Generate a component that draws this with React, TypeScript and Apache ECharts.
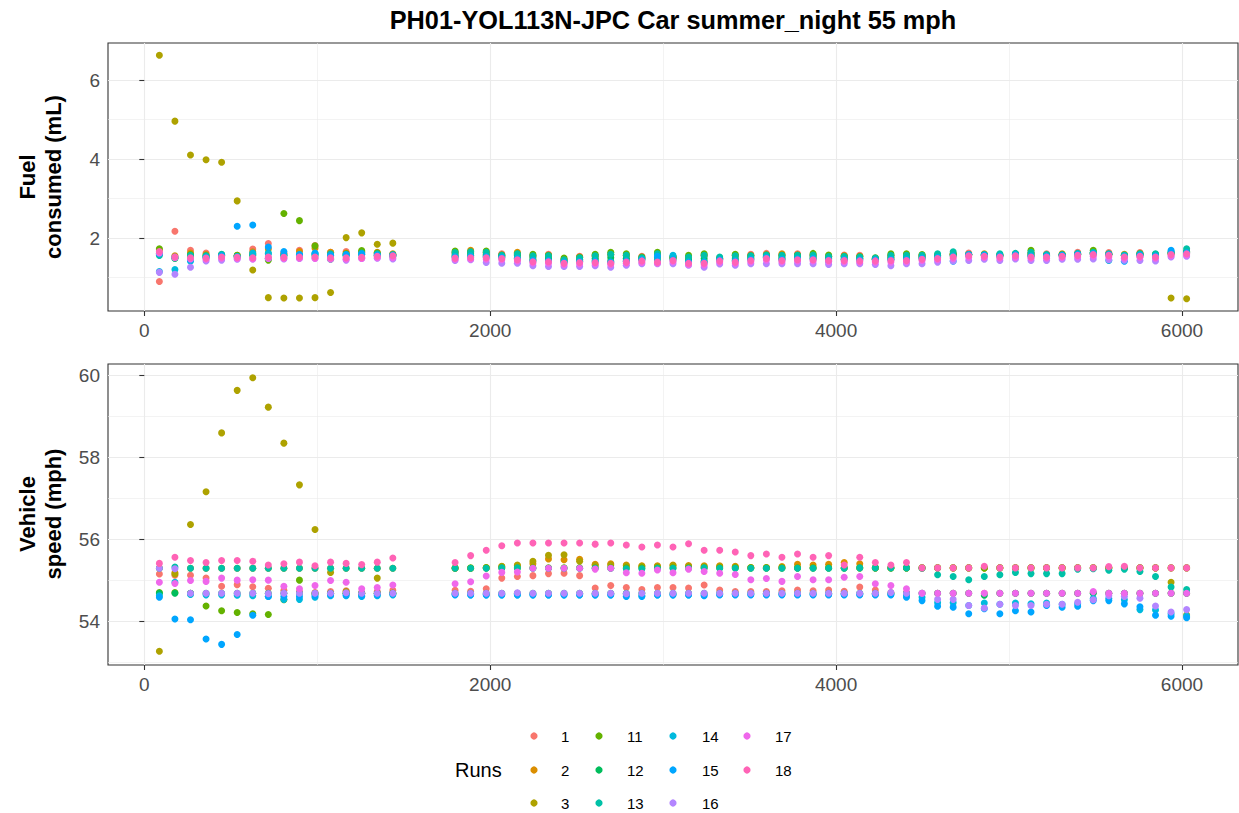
import React, { useEffect, useRef } from "react";
import * as echarts from "echarts";

// Distance along the route for every sampled window
const distance = [
  87, 177, 267, 357, 447, 537, 627, 717, 807, 897, 987, 1077, 1167, 1257, 1347, 1437,
  1797, 1887, 1977, 2067, 2157, 2247, 2337, 2427, 2517, 2607, 2697, 2787, 2877, 2967, 3057, 3147,
  3237, 3327, 3417, 3507, 3597, 3687, 3777, 3867, 3957, 4047, 4137, 4227, 4317, 4407, 4497, 4587,
  4677, 4767, 4857, 4947, 5037, 5127, 5217, 5307, 5397, 5487, 5577, 5667, 5757, 5847, 5937, 6027,
];

const runNames = ["1", "2", "3", "11", "12", "13", "14", "15", "16", "17", "18"];
const runColors = [
  "#F8766D", "#DB8E00", "#AEA200", "#64B200", "#00BD5C", "#00C1A7",
  "#00BADE", "#00A6FF", "#B385FF", "#EF67EB", "#FF63B6",
];

// Fuel consumed (mL) per window, one array per run
const fuelRun1 = [0.90, 2.17, 1.69, 1.62, 1.58, 1.55, 1.72, 1.86, 1.62, 1.69, 1.81, 1.64, 1.66, 1.64, 1.60, 1.58,
  1.62, 1.64, 1.62, 1.60, 1.60, 1.55, 1.59, 1.45, 1.54, 1.55, 1.58, 1.55, 1.54, 1.57, 1.52, 1.51,
  1.55, 1.49, 1.55, 1.59, 1.61, 1.57, 1.60, 1.56, 1.53, 1.57, 1.56, 1.47, 1.55, 1.56, 1.55, 1.56,
  1.60, 1.62, 1.56, 1.57, 1.60, 1.63, 1.60, 1.56, 1.64, 1.62, 1.63, 1.56, 1.63, 1.59, 1.61, 1.63];
const fuelRun2 = [1.70, 1.55, 1.62, 1.58, 1.56, 1.56, 1.65, 1.72, 1.60, 1.66, 1.74, 1.64, 1.62, 1.66, 1.64, 1.60,
  1.64, 1.69, 1.63, 1.57, 1.64, 1.54, 1.56, 1.46, 1.52, 1.54, 1.57, 1.56, 1.50, 1.58, 1.51, 1.52,
  1.56, 1.48, 1.56, 1.56, 1.58, 1.60, 1.57, 1.57, 1.54, 1.55, 1.53, 1.48, 1.56, 1.57, 1.56, 1.55,
  1.58, 1.58, 1.60, 1.56, 1.58, 1.60, 1.57, 1.60, 1.58, 1.61, 1.60, 1.59, 1.61, 1.57, 1.60, 1.62];
const fuelRun3 = [6.63, 4.96, 4.10, 3.98, 3.92, 2.94, 1.19, 0.49, 0.48, 0.48, 0.49, 0.62, 2.01, 2.13, 1.84, 1.87,
  1.54, 1.55, 1.56, 1.53, 1.50, 1.45, 1.46, 1.41, 1.43, 1.44, 1.42, 1.44, 1.47, 1.45, 1.48, 1.41,
  1.42, 1.46, 1.44, 1.48, 1.52, 1.48, 1.50, 1.49, 1.48, 1.47, 1.47, 1.46, 1.48, 1.47, 1.51, 1.52,
  1.56, 1.58, 1.57, 1.56, 1.58, 1.56, 1.56, 1.57, 1.59, 1.61, 1.59, 1.56, 1.57, 1.56, 0.48, 0.46];
const fuelRun11 = [1.73, 1.50, 1.58, 1.55, 1.57, 1.56, 1.60, 1.44, 2.62, 2.44, 1.80, 1.48, 1.60, 1.68, 1.62, 1.57,
  1.67, 1.65, 1.67, 1.57, 1.60, 1.59, 1.56, 1.49, 1.51, 1.59, 1.64, 1.60, 1.52, 1.64, 1.52, 1.56,
  1.60, 1.48, 1.59, 1.55, 1.57, 1.56, 1.57, 1.61, 1.57, 1.54, 1.53, 1.50, 1.60, 1.60, 1.58, 1.56,
  1.60, 1.58, 1.57, 1.58, 1.60, 1.69, 1.57, 1.58, 1.60, 1.69, 1.58, 1.55, 1.60, 1.58, 1.62, 1.66];
const fuelRun12 = [1.60, 1.48, 1.55, 1.52, 1.54, 1.52, 1.55, 1.48, 1.55, 1.55, 1.56, 1.46, 1.55, 1.58, 1.56, 1.54,
  1.58, 1.60, 1.58, 1.54, 1.55, 1.50, 1.49, 1.42, 1.46, 1.49, 1.50, 1.49, 1.48, 1.51, 1.49, 1.46,
  1.48, 1.47, 1.49, 1.51, 1.54, 1.51, 1.52, 1.53, 1.50, 1.50, 1.49, 1.46, 1.51, 1.51, 1.52, 1.54,
  1.58, 1.58, 1.57, 1.56, 1.59, 1.60, 1.56, 1.57, 1.60, 1.63, 1.59, 1.55, 1.58, 1.57, 1.63, 1.66];
const fuelRun13 = [1.56, 1.50, 1.56, 1.55, 1.59, 1.54, 1.58, 1.62, 1.56, 1.58, 1.60, 1.60, 1.58, 1.62, 1.60, 1.58,
  1.63, 1.65, 1.64, 1.56, 1.60, 1.55, 1.55, 1.45, 1.50, 1.55, 1.59, 1.56, 1.50, 1.60, 1.53, 1.52,
  1.56, 1.52, 1.55, 1.55, 1.57, 1.56, 1.56, 1.57, 1.53, 1.53, 1.52, 1.49, 1.56, 1.56, 1.56, 1.60,
  1.65, 1.58, 1.58, 1.60, 1.61, 1.64, 1.58, 1.57, 1.61, 1.64, 1.60, 1.57, 1.60, 1.60, 1.66, 1.73];
const fuelRun14 = [1.15, 1.20, 1.41, 1.52, 1.55, 1.53, 1.62, 1.60, 1.58, 1.56, 1.60, 1.55, 1.56, 1.58, 1.56, 1.55,
  1.53, 1.55, 1.53, 1.51, 1.49, 1.44, 1.43, 1.39, 1.41, 1.42, 1.40, 1.42, 1.46, 1.44, 1.56, 1.40,
  1.40, 1.45, 1.43, 1.47, 1.51, 1.47, 1.48, 1.49, 1.40, 1.46, 1.45, 1.45, 1.46, 1.47, 1.49, 1.51,
  1.55, 1.58, 1.57, 1.55, 1.58, 1.55, 1.55, 1.57, 1.59, 1.61, 1.43, 1.55, 1.57, 1.55, 1.62, 1.63];
const fuelRun15 = [1.60, 1.52, 1.45, 1.50, 1.55, 2.30, 2.33, 1.77, 1.66, 1.58, 1.62, 1.56, 1.58, 1.60, 1.57, 1.56,
  1.51, 1.52, 1.52, 1.50, 1.47, 1.42, 1.42, 1.38, 1.40, 1.40, 1.38, 1.41, 1.44, 1.54, 1.45, 1.38,
  1.38, 1.44, 1.41, 1.45, 1.50, 1.45, 1.47, 1.47, 1.45, 1.45, 1.44, 1.44, 1.45, 1.45, 1.48, 1.50,
  1.41, 1.57, 1.56, 1.54, 1.57, 1.54, 1.54, 1.56, 1.58, 1.60, 1.58, 1.41, 1.56, 1.54, 1.69, 1.62];
const fuelRun16 = [1.13, 1.08, 1.26, 1.42, 1.44, 1.46, 1.47, 1.48, 1.47, 1.48, 1.49, 1.47, 1.44, 1.48, 1.49, 1.47,
  1.43, 1.45, 1.38, 1.36, 1.36, 1.30, 1.28, 1.28, 1.28, 1.30, 1.26, 1.31, 1.35, 1.35, 1.35, 1.31,
  1.26, 1.34, 1.31, 1.35, 1.35, 1.35, 1.35, 1.35, 1.33, 1.35, 1.35, 1.33, 1.30, 1.35, 1.35, 1.39,
  1.42, 1.43, 1.46, 1.43, 1.47, 1.43, 1.43, 1.46, 1.46, 1.47, 1.45, 1.44, 1.43, 1.42, 1.52, 1.54];
const fuelRun17 = [1.62, 1.50, 1.47, 1.46, 1.49, 1.48, 1.47, 1.49, 1.48, 1.49, 1.48, 1.47, 1.46, 1.48, 1.50, 1.50,
  1.46, 1.47, 1.46, 1.45, 1.42, 1.37, 1.36, 1.33, 1.34, 1.35, 1.33, 1.36, 1.38, 1.36, 1.40, 1.33,
  1.32, 1.39, 1.36, 1.40, 1.44, 1.40, 1.42, 1.42, 1.40, 1.40, 1.39, 1.39, 1.39, 1.40, 1.43, 1.45,
  1.48, 1.51, 1.51, 1.49, 1.51, 1.49, 1.49, 1.51, 1.52, 1.54, 1.52, 1.49, 1.51, 1.49, 1.55, 1.57];
const fuelRun18 = [1.66, 1.52, 1.50, 1.49, 1.52, 1.51, 1.50, 1.52, 1.51, 1.52, 1.52, 1.50, 1.50, 1.51, 1.54, 1.55,
  1.49, 1.50, 1.50, 1.48, 1.45, 1.40, 1.40, 1.36, 1.38, 1.38, 1.36, 1.39, 1.42, 1.39, 1.43, 1.36,
  1.36, 1.42, 1.39, 1.43, 1.48, 1.43, 1.45, 1.45, 1.43, 1.43, 1.42, 1.42, 1.43, 1.43, 1.46, 1.48,
  1.52, 1.55, 1.54, 1.52, 1.55, 1.52, 1.52, 1.54, 1.56, 1.58, 1.56, 1.52, 1.54, 1.52, 1.58, 1.60];

// Vehicle speed (mph) per window, one array per run
const speedRun1 = [55.15, 55.12, 55.12, 55.05, 54.85, 54.89, 54.84, 54.80, 54.75, 54.72, 54.70, 54.72, 54.74, 54.70, 54.72, 54.75,
  54.75, 54.73, 54.79, 55.05, 55.09, 55.11, 55.16, 55.17, 55.11, 54.81, 54.87, 54.82, 54.77, 54.82, 54.82, 54.81,
  54.88, 54.76, 54.72, 54.72, 54.72, 54.74, 54.76, 54.74, 54.76, 54.73, 54.83, 54.76, 54.70, 54.70, 54.68, 54.68,
  54.68, 54.68, 54.68, 54.68, 54.68, 54.68, 54.68, 54.68, 54.68, 54.70, 54.68, 54.68, 54.68, 54.68, 54.68, 54.68];
const speedRun2 = [55.29, 55.18, 55.29, 55.29, 55.29, 55.29, 55.29, 55.29, 55.29, 55.29, 55.29, 55.29, 55.29, 55.29, 55.29, 55.29,
  55.29, 55.29, 55.30, 55.33, 55.35, 55.40, 55.52, 55.50, 55.51, 55.39, 55.40, 55.37, 55.35, 55.35, 55.37, 55.36,
  55.35, 55.35, 55.34, 55.31, 55.31, 55.33, 55.39, 55.37, 55.39, 55.43, 55.40, 55.30, 55.30, 55.30, 55.30, 55.30,
  55.30, 55.30, 55.30, 55.30, 55.30, 55.30, 55.30, 55.30, 55.30, 55.30, 55.30, 55.30, 55.30, 55.30, 55.30, 55.30];
const speedRun3 = [53.26, 55.15, 56.36, 57.16, 58.60, 59.64, 59.95, 59.23, 58.35, 57.33, 56.24, 55.19, 54.72, 54.68, 55.05, 54.68,
  55.29, 55.29, 55.31, 55.34, 55.37, 55.46, 55.61, 55.62, 55.46, 55.36, 55.37, 55.35, 55.34, 55.33, 55.36, 55.34,
  55.33, 55.33, 55.32, 55.30, 55.30, 55.30, 55.30, 55.30, 55.30, 55.30, 55.30, 55.30, 55.30, 55.30, 55.30, 55.30,
  55.30, 55.30, 55.30, 55.30, 55.30, 55.30, 55.30, 55.30, 55.30, 55.30, 55.30, 55.30, 55.30, 55.30, 54.95, 54.15];
const speedRun11 = [54.70, 54.70, 54.68, 54.37, 54.25, 54.21, 54.18, 54.16, 54.52, 55.00, 54.66, 54.68, 54.68, 54.66, 54.68, 54.68,
  55.30, 55.30, 55.30, 55.30, 55.30, 55.30, 55.30, 55.30, 55.30, 55.30, 55.30, 55.30, 55.30, 55.30, 55.30, 55.30,
  55.30, 55.30, 55.30, 55.30, 55.30, 55.30, 55.30, 55.30, 55.30, 55.30, 55.30, 55.30, 55.30, 55.30, 55.30, 55.30,
  55.30, 55.30, 55.30, 55.30, 55.30, 55.30, 55.30, 55.30, 55.30, 55.30, 55.30, 55.30, 55.30, 55.30, 55.30, 55.30];
const speedRun12 = [54.68, 54.68, 54.68, 54.68, 54.68, 54.68, 54.68, 54.68, 54.68, 54.68, 54.68, 54.68, 54.68, 54.68, 54.68, 54.68,
  54.68, 54.68, 54.68, 54.68, 54.68, 54.68, 54.68, 54.68, 54.68, 54.68, 54.68, 54.68, 54.68, 54.68, 54.68, 54.68,
  54.68, 54.68, 54.68, 54.68, 54.68, 54.68, 54.68, 54.68, 54.68, 54.68, 54.68, 54.68, 54.68, 54.68, 54.68, 54.68,
  54.68, 54.68, 54.63, 54.68, 54.68, 54.68, 54.68, 54.68, 54.68, 54.68, 54.68, 54.68, 54.68, 54.68, 54.68, 54.68];
const speedRun13 = [55.29, 55.32, 55.29, 55.29, 55.29, 55.29, 55.29, 55.29, 55.29, 55.29, 55.29, 55.29, 55.29, 55.29, 55.29, 55.29,
  55.29, 55.29, 55.29, 55.30, 55.30, 55.29, 55.29, 55.29, 55.29, 55.29, 55.29, 55.28, 55.28, 55.29, 55.29, 55.29,
  55.30, 55.29, 55.29, 55.29, 55.29, 55.29, 55.29, 55.29, 55.29, 55.29, 55.30, 55.30, 55.30, 55.30, 55.29, 55.13,
  55.09, 55.01, 55.09, 55.13, 55.19, 55.16, 55.16, 55.16, 55.27, 55.28, 55.24, 55.27, 55.21, 55.09, 54.83, 54.77];
const speedRun14 = [54.62, 54.95, 54.65, 54.64, 54.64, 54.63, 54.62, 54.60, 54.53, 54.53, 54.58, 54.62, 54.62, 54.60, 54.62, 54.64,
  54.65, 54.64, 54.64, 54.64, 54.64, 54.64, 54.64, 54.64, 54.64, 54.64, 54.64, 54.64, 54.62, 54.64, 54.64, 54.64,
  54.64, 54.65, 54.65, 54.65, 54.65, 54.65, 54.65, 54.65, 54.65, 54.65, 54.65, 54.65, 54.65, 54.62, 54.58, 54.45,
  54.45, 54.38, 54.44, 54.41, 54.44, 54.42, 54.44, 54.41, 54.42, 54.55, 54.55, 54.52, 54.28, 54.27, 54.18, 54.12];
const speedRun15 = [54.58, 54.05, 54.03, 53.56, 53.43, 53.67, 54.14, 54.60, 54.60, 54.60, 54.62, 54.64, 54.64, 54.62, 54.64, 54.66,
  54.64, 54.64, 54.64, 54.64, 54.64, 54.64, 54.64, 54.64, 54.64, 54.64, 54.64, 54.60, 54.60, 54.64, 54.64, 54.64,
  54.62, 54.64, 54.64, 54.64, 54.64, 54.64, 54.64, 54.64, 54.64, 54.64, 54.64, 54.64, 54.64, 54.58, 54.50, 54.36,
  54.34, 54.18, 54.30, 54.18, 54.25, 54.22, 54.38, 54.34, 54.36, 54.50, 54.50, 54.42, 54.35, 54.14, 54.12, 54.08];
const speedRun16 = [55.29, 55.28, 54.68, 54.68, 54.68, 54.68, 54.68, 54.67, 54.68, 54.68, 54.68, 54.68, 54.69, 54.68, 54.68, 54.68,
  54.68, 54.68, 54.68, 54.68, 54.69, 54.68, 54.68, 54.68, 54.68, 54.68, 54.68, 54.67, 54.68, 54.68, 54.68, 54.68,
  54.68, 54.68, 54.68, 54.68, 54.68, 54.68, 54.68, 54.68, 54.68, 54.68, 54.68, 54.68, 54.70, 54.68, 54.68, 54.53,
  54.53, 54.38, 54.32, 54.41, 54.38, 54.38, 54.41, 54.41, 54.46, 54.52, 54.62, 54.60, 54.56, 54.37, 54.22, 54.28];
const speedRun17 = [54.95, 54.92, 54.99, 54.97, 55.05, 55.00, 55.01, 55.00, 54.85, 54.79, 54.87, 54.99, 54.95, 54.79, 54.82, 54.88,
  54.91, 54.96, 55.10, 55.19, 55.20, 55.29, 55.29, 55.29, 55.29, 55.27, 55.29, 55.18, 55.17, 55.25, 55.18, 55.27,
  55.21, 55.17, 55.14, 55.01, 55.04, 54.97, 55.09, 55.01, 55.01, 55.07, 55.09, 54.91, 54.87, 54.79, 54.68, 54.68,
  54.68, 54.68, 54.68, 54.68, 54.68, 54.68, 54.68, 54.68, 54.68, 54.72, 54.68, 54.68, 54.68, 54.68, 54.68, 54.68];
const speedRun18 = [55.41, 55.56, 55.48, 55.43, 55.48, 55.48, 55.46, 55.37, 55.40, 55.44, 55.35, 55.44, 55.41, 55.38, 55.44, 55.54,
  55.43, 55.60, 55.73, 55.84, 55.91, 55.91, 55.91, 55.91, 55.91, 55.88, 55.91, 55.86, 55.81, 55.86, 55.81, 55.89,
  55.73, 55.73, 55.69, 55.60, 55.64, 55.56, 55.64, 55.56, 55.60, 55.37, 55.56, 55.43, 55.37, 55.43, 55.30, 55.30,
  55.30, 55.30, 55.34, 55.30, 55.30, 55.30, 55.30, 55.30, 55.30, 55.30, 55.33, 55.34, 55.30, 55.30, 55.30, 55.30];

const fuelByRun = [fuelRun1, fuelRun2, fuelRun3, fuelRun11, fuelRun12, fuelRun13, fuelRun14, fuelRun15, fuelRun16, fuelRun17, fuelRun18];
const speedByRun = [speedRun1, speedRun2, speedRun3, speedRun11, speedRun12, speedRun13, speedRun14, speedRun15, speedRun16, speedRun17, speedRun18];

// Axis breaks
const xTicks = [0, 2000, 4000, 6000];
const xMinorTicks = [1000, 3000, 5000];
const fuelTicks = [2, 4, 6];
const fuelMinorTicks = [1, 3, 5];
const speedTicks = [54, 56, 58, 60];
const speedMinorTicks = [53, 55, 57, 59];

// Legend key laid out in columns of three
const legendColumns = [
  ["1", "2", "3"],
  ["11", "12", "13"],
  ["14", "15", "16"],
  ["17", "18"],
];

const FONT = "'Liberation Sans', Arial, Helvetica, sans-serif";

// 5% padding on either side of the data range
function paddedRange(values: number[]): [number, number] {
  const lo = Math.min(...values);
  const hi = Math.max(...values);
  const pad = (hi - lo) * 0.05;
  return [lo - pad, hi + pad];
}

const xRange = paddedRange(distance);
const fuelRange = paddedRange(fuelByRun.flat());
const speedRange = paddedRange(speedByRun.flat());

const gridLine = "#EBEBEB";

function majorAxis(kind: "x" | "y", gridIndex: number, range: [number, number], ticks: number[]) {
  return {
    type: "value",
    gridIndex,
    min: range[0],
    max: range[1],
    position: kind === "x" ? "bottom" : "left",
    axisLine: { show: false },
    axisTick: {
      show: true,
      length: 5,
      customValues: ticks,
      lineStyle: { color: "#333333", width: 1.1 },
    },
    axisLabel: {
      show: true,
      customValues: ticks,
      color: "#4D4D4D",
      fontSize: 19,
      fontFamily: FONT,
      margin: kind === "x" ? 10 : 8,
      formatter: (v: number) => String(v),
    },
    splitLine: { show: true, lineStyle: { color: gridLine, width: 1.1 } },
  };
}

function minorAxis(kind: "x" | "y", gridIndex: number, range: [number, number], ticks: number[]) {
  return {
    type: "value",
    gridIndex,
    min: range[0],
    max: range[1],
    position: kind === "x" ? "bottom" : "left",
    axisLine: { show: false },
    axisTick: { show: false, customValues: ticks },
    axisLabel: { show: false, customValues: ticks },
    splitLine: { show: true, lineStyle: { color: gridLine, width: 0.6 } },
  };
}

function legendGraphics() {
  const dotX = [534, 599, 673, 747];
  const labelX = [561, 627, 702, 775];
  const rowY = [736, 770, 803];
  const items: any[] = [];
  legendColumns.forEach((col, c) => {
    col.forEach((name, r) => {
      const color = runColors[runNames.indexOf(name)];
      items.push({
        type: "circle",
        shape: { cx: dotX[c], cy: rowY[r], r: 3.6 },
        style: { fill: color },
      });
      items.push({
        type: "text",
        x: labelX[c],
        y: rowY[r],
        style: {
          text: name,
          font: `15px ${FONT}`,
          fill: "#000000",
          textAlign: "left",
          textVerticalAlign: "middle",
        },
      });
    });
  });
  items.push({
    type: "text",
    x: 455,
    y: 770,
    style: {
      text: "Runs",
      font: `20px ${FONT}`,
      fill: "#000000",
      textAlign: "left",
      textVerticalAlign: "middle",
    },
  });
  return items;
}

function buildOption() {
  const series: any[] = [];
  fuelByRun.forEach((vals, i) => {
    series.push({
      name: runNames[i],
      type: "scatter",
      xAxisIndex: 0,
      yAxisIndex: 0,
      symbol: "circle",
      symbolSize: 7,
      itemStyle: { color: runColors[i], opacity: 1 },
      data: distance.map((d, j) => [d, vals[j]]),
      silent: true,
    });
  });
  speedByRun.forEach((vals, i) => {
    series.push({
      name: runNames[i],
      type: "scatter",
      xAxisIndex: 2,
      yAxisIndex: 2,
      symbol: "circle",
      symbolSize: 7,
      itemStyle: { color: runColors[i], opacity: 1 },
      data: distance.map((d, j) => [d, vals[j]]),
      silent: true,
    });
  });

  return {
    animation: false,
    backgroundColor: "#FFFFFF",
    textStyle: { fontFamily: FONT },
    grid: [
      { left: 108, top: 43, width: 1130, height: 268, show: true, borderColor: "#333333", borderWidth: 1.1, backgroundColor: "transparent" },
      { left: 108, top: 364, width: 1130, height: 301, show: true, borderColor: "#333333", borderWidth: 1.1, backgroundColor: "transparent" },
    ],
    xAxis: [
      majorAxis("x", 0, xRange, xTicks),
      minorAxis("x", 0, xRange, xMinorTicks),
      majorAxis("x", 1, xRange, xTicks),
      minorAxis("x", 1, xRange, xMinorTicks),
    ],
    yAxis: [
      majorAxis("y", 0, fuelRange, fuelTicks),
      minorAxis("y", 0, fuelRange, fuelMinorTicks),
      majorAxis("y", 1, speedRange, speedTicks),
      minorAxis("y", 1, speedRange, speedMinorTicks),
    ],
    graphic: [
      {
        type: "text",
        x: 673,
        y: 20,
        style: {
          text: "PH01-YOL113N-JPC Car summer_night 55 mph",
          font: `bold 25.3px ${FONT}`,
          fill: "#000000",
          textAlign: "center",
          textVerticalAlign: "middle",
        },
      },
      {
        type: "text",
        x: 40,
        y: 177,
        rotation: Math.PI / 2,
        style: {
          text: "Fuel\nconsumed (mL)",
          font: `bold 22px ${FONT}`,
          lineHeight: 26,
          fill: "#000000",
          textAlign: "center",
          textVerticalAlign: "middle",
        },
      },
      {
        type: "text",
        x: 40,
        y: 514,
        rotation: Math.PI / 2,
        style: {
          text: "Vehicle\nspeed (mph)",
          font: `bold 22px ${FONT}`,
          lineHeight: 26,
          fill: "#000000",
          textAlign: "center",
          textVerticalAlign: "middle",
        },
      },
      ...legendGraphics(),
    ],
    series,
  };
}

export default function App() {
  const ref = useRef<HTMLDivElement>(null);
  useEffect(() => {
    if (!ref.current) return;
    const chart = echarts.init(ref.current, null, { renderer: "svg" });
    chart.setOption(buildOption() as any);
    return () => chart.dispose();
  }, []);
  return (
    <div
      ref={ref}
      style={{ position: "fixed", left: 0, top: 0, width: 1239, height: 813, background: "#FFFFFF" }}
    />
  );
}
